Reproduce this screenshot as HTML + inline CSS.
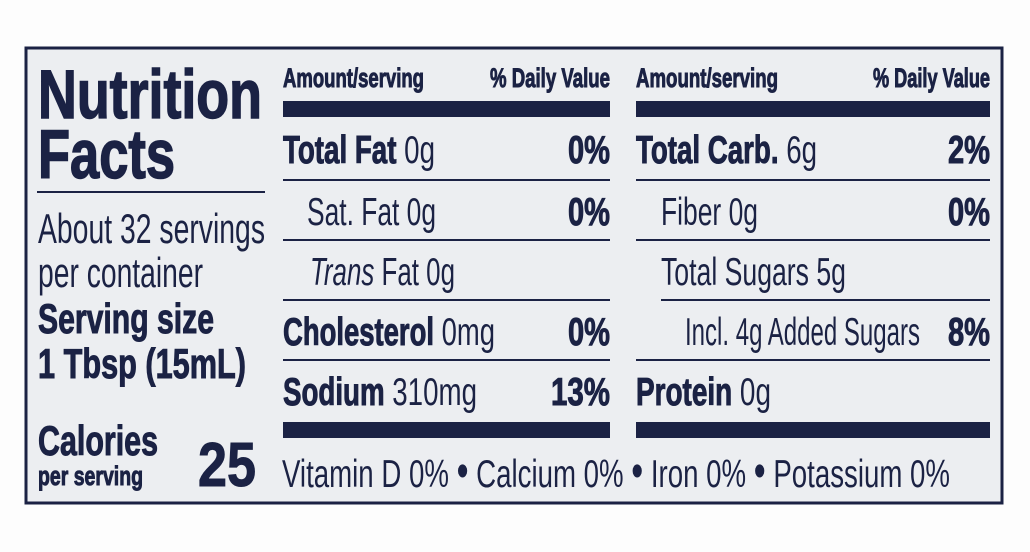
<!DOCTYPE html>
<html><head><meta charset="utf-8"><style>
html,body{margin:0;padding:0;background:#fff;width:1030px;height:552px;overflow:hidden}
svg{display:block}
text{font-family:"Liberation Sans",sans-serif;fill:#1b2244}
.b{font-weight:bold;stroke:#1b2244;stroke-width:1}
</style></head><body>
<svg width="1030" height="552" viewBox="0 0 1030 552">
<rect x="0" y="0" width="1030" height="552" fill="#fdfdfd"/>
<rect x="26" y="48" width="976" height="455" fill="#eceef1" stroke="#1b2244" stroke-width="3"/>
<text class="b" x="38" y="118" font-size="69" textLength="224" lengthAdjust="spacingAndGlyphs" style="stroke-width:1.5">Nutrition</text>
<text class="b" x="38" y="178" font-size="69" textLength="137" lengthAdjust="spacingAndGlyphs" style="stroke-width:1.5">Facts</text>
<rect x="37" y="191" width="228" height="2" fill="#1b2244"/>
<text x="38" y="243" font-size="42" textLength="227" lengthAdjust="spacingAndGlyphs">About 32 servings</text>
<text x="38" y="287" font-size="42" textLength="165" lengthAdjust="spacingAndGlyphs">per container</text>
<text class="b" x="38" y="333" font-size="42" textLength="176" lengthAdjust="spacingAndGlyphs">Serving size</text>
<text class="b" x="38" y="378" font-size="42" textLength="208" lengthAdjust="spacingAndGlyphs">1 Tbsp (15mL)</text>
<text class="b" x="38" y="455" font-size="42" textLength="120" lengthAdjust="spacingAndGlyphs">Calories</text>
<text class="b" x="38" y="485" font-size="27" textLength="105" lengthAdjust="spacingAndGlyphs">per serving</text>
<text class="b" x="198" y="486" font-size="62" textLength="58" lengthAdjust="spacingAndGlyphs">25</text>

<text class="b" x="283" y="87" font-size="27" textLength="141" lengthAdjust="spacingAndGlyphs">Amount/serving</text>
<text class="b" x="490" y="87" font-size="27" textLength="120" lengthAdjust="spacingAndGlyphs">% Daily Value</text>
<rect x="283" y="101" width="327" height="16" fill="#1b2244"/>
<text x="283" y="163" font-size="39" textLength="152" lengthAdjust="spacingAndGlyphs"><tspan class="b">Total Fat</tspan> 0g</text>
<text class="b" x="568" y="163" font-size="39" textLength="42" lengthAdjust="spacingAndGlyphs">0%</text>
<rect x="283" y="179" width="327" height="2" fill="#1b2244"/>
<text x="307" y="225" font-size="39" textLength="129" lengthAdjust="spacingAndGlyphs">Sat. Fat 0g</text>
<text class="b" x="568" y="225" font-size="39" textLength="42" lengthAdjust="spacingAndGlyphs">0%</text>
<rect x="283" y="239" width="327" height="2" fill="#1b2244"/>
<text x="310" y="285" font-size="39" textLength="145" lengthAdjust="spacingAndGlyphs"><tspan font-style="italic">Trans</tspan> Fat 0g</text>
<rect x="283" y="299" width="327" height="2" fill="#1b2244"/>
<text x="283" y="345" font-size="39" textLength="212" lengthAdjust="spacingAndGlyphs"><tspan class="b">Cholesterol</tspan> 0mg</text>
<text class="b" x="568" y="345" font-size="39" textLength="42" lengthAdjust="spacingAndGlyphs">0%</text>
<rect x="283" y="359" width="327" height="2" fill="#1b2244"/>
<text x="283" y="405" font-size="39" textLength="194" lengthAdjust="spacingAndGlyphs"><tspan class="b">Sodium</tspan> 310mg</text>
<text class="b" x="551" y="405" font-size="39" textLength="59" lengthAdjust="spacingAndGlyphs">13%</text>
<rect x="283" y="422" width="327" height="16" fill="#1b2244"/>

<text class="b" x="636" y="87" font-size="27" textLength="142" lengthAdjust="spacingAndGlyphs">Amount/serving</text>
<text class="b" x="873" y="87" font-size="27" textLength="117" lengthAdjust="spacingAndGlyphs">% Daily Value</text>
<rect x="636" y="101" width="354" height="16" fill="#1b2244"/>
<text x="636" y="163" font-size="39" textLength="181" lengthAdjust="spacingAndGlyphs"><tspan class="b">Total Carb.</tspan> 6g</text>
<text class="b" x="948" y="163" font-size="39" textLength="42" lengthAdjust="spacingAndGlyphs">2%</text>
<rect x="636" y="179" width="354" height="2" fill="#1b2244"/>
<text x="661" y="225" font-size="39" textLength="97" lengthAdjust="spacingAndGlyphs">Fiber 0g</text>
<text class="b" x="948" y="225" font-size="39" textLength="42" lengthAdjust="spacingAndGlyphs">0%</text>
<rect x="636" y="239" width="354" height="2" fill="#1b2244"/>
<text x="661" y="285" font-size="39" textLength="185" lengthAdjust="spacingAndGlyphs">Total Sugars 5g</text>
<rect x="661" y="299" width="329" height="2" fill="#1b2244"/>
<text x="685" y="345" font-size="39" textLength="235" lengthAdjust="spacingAndGlyphs">Incl. 4g Added Sugars</text>
<text class="b" x="948" y="345" font-size="39" textLength="42" lengthAdjust="spacingAndGlyphs">8%</text>
<rect x="636" y="359" width="354" height="2" fill="#1b2244"/>
<text x="636" y="405" font-size="39" textLength="135" lengthAdjust="spacingAndGlyphs"><tspan class="b">Protein</tspan> 0g</text>
<rect x="636" y="422" width="354" height="16" fill="#1b2244"/>

<text x="282" y="487" font-size="39" textLength="668" lengthAdjust="spacingAndGlyphs">Vitamin D 0% <tspan font-size="48">•</tspan> Calcium 0% <tspan font-size="48">•</tspan> Iron 0% <tspan font-size="48">•</tspan> Potassium 0%</text>
</svg>
</body></html>
